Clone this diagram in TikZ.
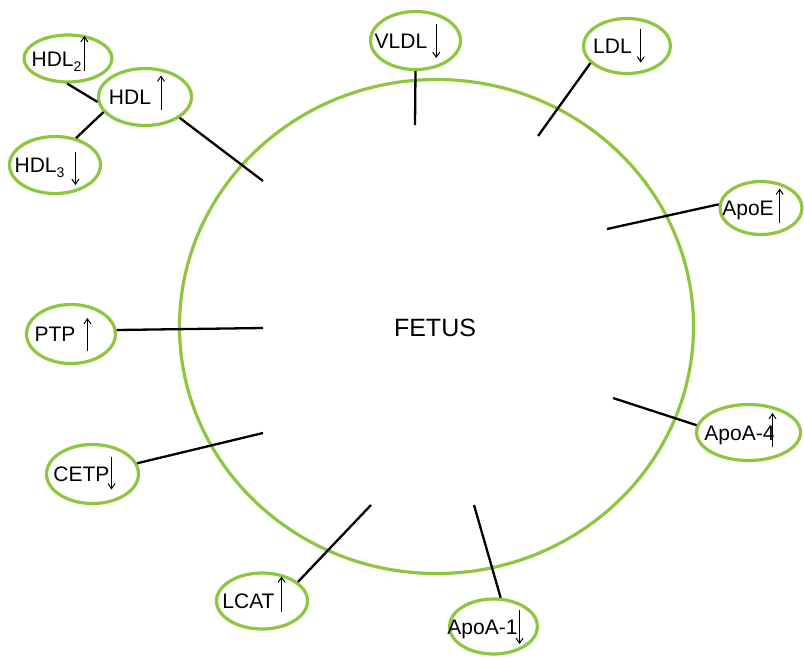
\documentclass[tikz,border=0pt]{standalone}
\usepackage{fontspec}
\setmainfont{Liberation Sans}
\usetikzlibrary{shapes.geometric,arrows.meta}
\definecolor{fgreen}{RGB}{141,198,63}
\tikzset{
  lab/.style={ellipse, draw=fgreen, line width=3.2pt, inner sep=0pt, text=black,
    font=\fontsize{21}{25}\selectfont, text height=15pt, text depth=0pt},
  conn/.style={draw=black, line width=2.3pt},
  arr/.style={draw=black, line width=1pt, -{Straight Barb[length=5pt,width=7pt]}},
}
% #1 = bottom, #2 = top (relative to baseline)
\newcommand{\uarr}[2]{\tikz[baseline=0pt]{\draw[arr] (0pt,#1pt) -- (0pt,#2pt);}}
\newcommand{\darr}[2]{\tikz[baseline=0pt]{\draw[arr] (0pt,#2pt) -- (0pt,#1pt);}}
\newcommand{\lbl}[1]{\makebox[0pt][c]{#1\hspace{16pt}}}
\newcommand{\subs}[1]{\raisebox{-5pt}{\fontsize{14}{16}\selectfont #1}}
\begin{document}
\begin{tikzpicture}[x=1pt,y=-1pt]
\useasboundingbox (0,0) rectangle (804,657);
% big circle
\draw[fgreen, line width=3.2pt] (436.5,326.5) ellipse [x radius=257, y radius=247];
\node[font=\fontsize{25}{30}\selectfont, text height=18pt, text depth=0pt, inner sep=0pt] (fetus) at (435,327.5) {FETUS};
% label ellipses
\node[lab, minimum width=88pt, minimum height=47pt] (hdltwo) at (68,58.5) {\lbl{HDL\subs{2}\hspace{-1pt}\uarr{-5}{30}}};
\node[lab, minimum width=93pt, minimum height=57pt] (hdl) at (145,97) {\lbl{HDL\hspace{6pt}\uarr{-5}{29}}};
\node[lab, minimum width=91pt, minimum height=57pt] (hdlthree) at (55,165) {\lbl{HDL\subs{3}\hspace{7pt}\darr{-12.5}{21}}};
\node[lab, minimum width=90pt, minimum height=58pt] (vldl) at (415.5,40.5) {\lbl{VLDL\hspace{5pt}\darr{-10}{24}}};
\node[lab, minimum width=87pt, minimum height=55pt] (ldl) at (627,46) {\lbl{LDL\hspace{5pt}\darr{-9}{25}}};
\node[lab, minimum width=82pt, minimum height=53pt] (apoe) at (761,208) {\lbl{ApoE\hspace{2pt}\uarr{-7}{27}}};
\node[lab, minimum width=104pt, minimum height=56pt] (apoafour) at (748.5,432.5) {\lbl{ApoA-4\hspace{-6pt}\uarr{-7}{27}}};
\node[lab, minimum width=88pt, minimum height=55pt] (apoaone) at (493.5,626.5) {\lbl{ApoA-1\hspace{-2pt}\darr{-10}{24}}};
\node[lab, minimum width=91pt, minimum height=56pt] (lcat) at (262,601) {\lbl{LCAT\hspace{3pt}\uarr{-3}{32}}};
\node[lab, minimum width=92pt, minimum height=59pt] (cetp) at (92.5,474) {\lbl{CETP\hspace{-2pt}\darr{-8}{25}}};
\node[lab, minimum width=89pt, minimum height=59pt] (ptp) at (71,334) {\lbl{PTP\hspace{8pt}\uarr{-9}{23.5}}};
% inner ends
\coordinate (chdl) at (263,181);
\coordinate (cvldl) at (415,125);
\coordinate (cldl) at (538,136);
\coordinate (capoe) at (607,229);
\coordinate (capoafour) at (613,398);
\coordinate (capoaone) at (474,505);
\coordinate (clcat) at (371,505);
\coordinate (ccetp) at (263,433);
\coordinate (cptp) at (263,328);
% connectors
\draw[conn] (hdltwo.-92) -- (hdl.186);
\draw[conn] (hdlthree.52) -- (hdl.200);
\draw[conn] (hdl.-31) -- (chdl);
\draw[conn] (vldl.south) -- (cvldl);
\draw[conn] (ldl.205) -- (cldl);
\draw[conn] (apoe.175) -- (capoe);
\draw[conn] (apoafour.172) -- (capoafour);
\draw[conn] (apoaone.76) -- (capoaone);
\draw[conn] (lcat.28) -- (clcat);
\draw[conn] (cetp) -- (ccetp);
\draw[conn] (ptp.5) -- (cptp);
\end{tikzpicture}
\end{document}
